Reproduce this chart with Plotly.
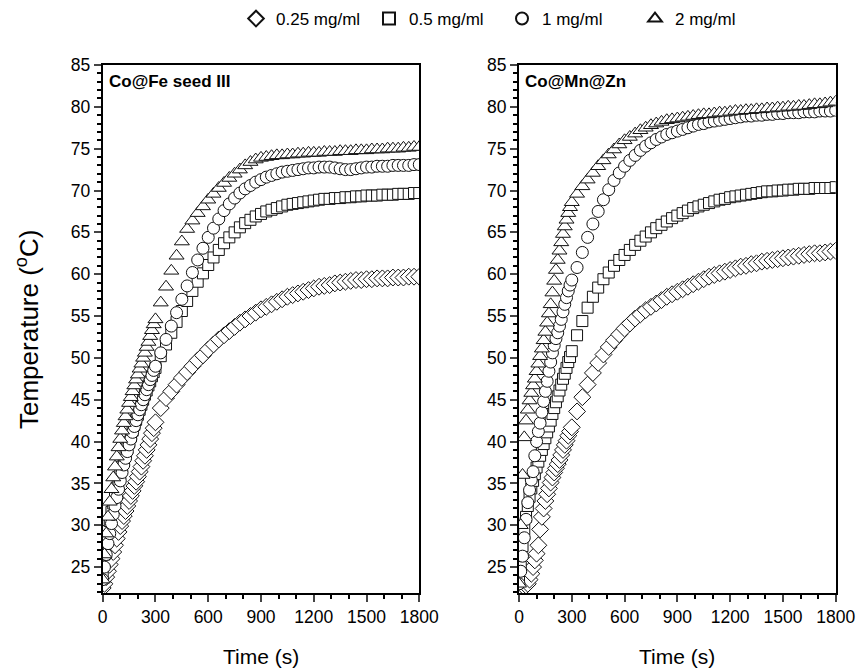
import plotly.graph_objects as go

# ---------------- data ----------------
TIME_S = [0, 10, 20, 30, 40, 50, 60, 70, 80, 90, 100, 110, 120, 130, 140, 150,
          160, 170, 180, 190, 200, 210, 220, 230, 240, 250, 260, 270, 280, 290, 300,
          330, 360, 390, 420, 450, 480, 510, 540, 570, 600,
          630, 660, 690, 720, 750, 780, 810, 840, 870, 900,
          930, 960, 990, 1020, 1050, 1080, 1110, 1140, 1170, 1200,
          1230, 1260, 1290, 1320, 1350, 1380, 1410, 1440, 1470, 1500,
          1530, 1560, 1590, 1620, 1650, 1680, 1710, 1740, 1770, 1800]

SERIES_NAMES = ["0.25 mg/ml", "0.5 mg/ml", "1 mg/ml", "2 mg/ml"]
PANEL_LABELS = ["Co@Fe seed III", "Co@Mn@Zn"]

# Co@Fe seed III
cofe_025 = [22.5, 23.0, 23.8, 24.5, 25.3, 26.0, 26.8, 27.6, 28.4, 29.2, 29.9, 30.5, 31.1, 31.7, 32.3, 32.9,
            33.5, 34.1, 34.7, 35.2, 35.8, 36.4, 37.0, 37.7, 38.3, 39.0, 39.6, 40.3, 41.0, 41.6, 42.3,
            44.0, 45.2, 46.0, 46.8, 47.6, 48.3, 49.0, 49.7, 50.3, 51.0,
            51.6, 52.2, 52.7, 53.2, 53.7, 54.2, 54.6, 55.0, 55.4, 55.8,
            56.1, 56.4, 56.7, 57.0, 57.3, 57.5, 57.7, 57.9, 58.1, 58.3,
            58.5, 58.6, 58.7, 58.9, 59.0, 59.1, 59.2, 59.3, 59.3, 59.4,
            59.4, 59.5, 59.5, 59.5, 59.6, 59.6, 59.6, 59.7, 59.7, 59.7]
cofe_05 = [24.0, 26.5, 28.0, 29.3, 30.5, 31.6, 32.6, 33.6, 34.5, 35.4, 36.2, 37.0, 37.8, 38.5, 39.2, 39.9,
           40.6, 41.3, 42.0, 42.6, 43.2, 43.8, 44.4, 45.0, 45.6, 46.1, 46.7, 47.2, 47.8, 48.3, 48.8,
           50.2, 51.6, 53.0, 54.3, 55.6, 56.8, 58.0, 59.1, 60.1, 61.1,
           62.0, 62.9, 63.7, 64.4, 65.0, 65.6, 66.1, 66.5, 66.9, 67.2,
           67.5, 67.7, 67.9, 68.1, 68.3, 68.4, 68.5, 68.6, 68.7, 68.8,
           68.9, 69.0, 69.0, 69.1, 69.1, 69.2, 69.2, 69.3, 69.3, 69.4,
           69.4, 69.4, 69.5, 69.5, 69.5, 69.6, 69.6, 69.6, 69.7, 69.7]
cofe_1 = [23.5, 25.0, 26.5, 27.8, 29.0, 30.2, 31.3, 32.3, 33.3, 34.3, 35.3, 36.3, 37.2, 38.0, 38.8, 39.6,
          40.3, 41.1, 41.8, 42.5, 43.2, 43.8, 44.4, 45.0, 45.6, 46.2, 46.8, 47.4, 47.9, 48.5, 49.0,
          50.6, 52.2, 53.8, 55.4, 57.0, 58.6, 60.2, 61.7, 63.1, 64.4,
          65.5, 66.6, 67.6, 68.4, 69.1, 69.7, 70.2, 70.6, 71.0, 71.3,
          71.6, 71.8, 72.0, 72.2, 72.3, 72.4, 72.5, 72.6, 72.7, 72.7,
          72.8, 72.8, 72.8, 72.7, 72.6, 72.5, 72.5, 72.6, 72.7, 72.8,
          72.8, 72.9, 72.9, 72.9, 73.0, 73.0, 73.0, 73.0, 73.1, 73.1]
cofe_2 = [23.5, 26.5, 29.0, 31.0, 32.8, 34.3, 35.7, 37.0, 38.2, 39.3, 40.3, 41.3, 42.2, 43.0, 43.8, 44.6,
          45.3, 46.0, 46.7, 47.4, 48.0, 48.7, 49.3, 50.0, 50.6, 51.3, 51.9, 52.6, 53.3, 54.0, 54.6,
          56.6, 58.5, 60.4, 62.2, 63.9, 65.4, 66.4, 67.3, 68.1, 68.9,
          69.6, 70.3, 70.9, 71.5, 72.0, 72.5, 73.0, 73.4, 73.7, 73.9,
          74.0, 74.1, 74.2, 74.2, 74.3, 74.3, 74.4, 74.4, 74.5, 74.5,
          74.5, 74.6, 74.6, 74.6, 74.7, 74.7, 74.7, 74.8, 74.8, 74.8,
          74.9, 74.9, 74.9, 75.0, 75.0, 75.0, 75.1, 75.1, 75.2, 75.2]

# Co@Mn@Zn
comn_025 = [22.0, 22.2, 22.4, 22.6, 22.8, 23.0, 23.5, 24.2, 25.0, 25.8, 26.6, 27.6, 29.5, 31.0, 32.0, 32.9,
            33.7, 34.4, 35.1, 35.7, 36.3, 36.8, 37.3, 37.8, 38.4, 39.0, 39.6, 40.1, 40.7, 41.2, 41.7,
            43.6, 45.3, 46.8, 48.2, 49.4, 50.4, 51.3, 52.1, 52.8, 53.5,
            54.1, 54.7, 55.2, 55.7, 56.1, 56.5, 56.9, 57.3, 57.6, 57.9,
            58.2, 58.5, 58.8, 59.1, 59.4, 59.7, 59.9, 60.1, 60.3, 60.5,
            60.7, 60.9, 61.0, 61.2, 61.3, 61.5, 61.6, 61.7, 61.8, 61.9,
            62.0, 62.1, 62.2, 62.3, 62.4, 62.5, 62.5, 62.6, 62.7, 62.8]
comn_05 = [23.5, 25.0, 27.5, 29.5, 31.0, 32.3, 33.4, 34.4, 35.3, 36.1, 36.9, 37.6, 38.3, 39.0, 39.7, 40.4,
           41.1, 41.8, 42.5, 43.3, 44.0, 44.7, 45.4, 46.1, 46.8, 47.5, 48.1, 48.8, 49.5, 50.1, 50.8,
           52.7, 54.4, 56.0, 57.3, 58.4, 59.4, 60.2, 61.0, 61.7, 62.3,
           62.9, 63.5, 64.0, 64.5, 65.0, 65.5, 65.9, 66.3, 66.7, 67.0,
           67.3, 67.6, 67.9, 68.1, 68.3, 68.5, 68.7, 68.9, 69.0, 69.2,
           69.3, 69.4, 69.5, 69.6, 69.7, 69.8, 69.9, 69.9, 70.0, 70.0,
           70.1, 70.1, 70.2, 70.2, 70.2, 70.3, 70.3, 70.3, 70.3, 70.4]
comn_1 = [23.0, 24.5, 26.3, 28.5, 30.7, 32.7, 34.2, 35.4, 36.4, 38.3, 40.0, 41.2, 42.2, 43.5, 44.8, 46.0,
          47.2, 48.4, 49.5, 50.6, 51.5, 52.3, 53.0, 53.8, 54.6, 55.5, 56.4, 57.2, 58.0, 58.7, 59.3,
          60.8, 62.6, 64.4, 66.0, 67.5, 68.9, 70.1, 71.2, 72.1, 72.9,
          73.6, 74.2, 74.8, 75.3, 75.7, 76.1, 76.4, 76.7, 76.9, 77.1,
          77.3, 77.5, 77.7, 77.9, 78.0, 78.2, 78.3, 78.4, 78.5, 78.6,
          78.7, 78.8, 78.9, 78.9, 79.0, 79.0, 79.1, 79.1, 79.2, 79.2,
          79.3, 79.3, 79.3, 79.4, 79.4, 79.4, 79.5, 79.5, 79.5, 79.6]
comn_2 = [23.0, 30.0, 36.0, 40.5, 42.5, 43.8, 44.9, 45.8, 46.7, 47.5, 48.4, 49.3, 50.2, 51.1, 52.1, 53.1,
          54.2, 55.3, 56.4, 57.8, 59.2, 60.5, 61.7, 62.8, 63.8, 64.8, 65.7, 66.5, 67.3, 68.0, 68.6,
          69.6, 70.5, 71.3, 72.1, 72.9, 73.6, 74.3, 74.9, 75.5, 76.0,
          76.4, 76.8, 77.2, 77.5, 77.8, 78.0, 78.2, 78.4, 78.5, 78.6,
          78.7, 78.8, 78.9, 79.0, 79.1, 79.1, 79.2, 79.3, 79.3, 79.4,
          79.5, 79.5, 79.6, 79.6, 79.7, 79.7, 79.8, 79.8, 79.9, 79.9,
          80.0, 80.0, 80.1, 80.1, 80.2, 80.3, 80.3, 80.4, 80.5, 80.6]

X_TICKS = [0, 300, 600, 900, 1200, 1500, 1800]
Y_TICKS = [25, 30, 35, 40, 45, 50, 55, 60, 65, 70, 75, 80, 85]

# ---------------- figure ----------------
FONT = "Liberation Sans, Arial, sans-serif"
SYMBOLS = ["diamond", "square", "circle", "triangle-up"]
SIZES = [13, 11, 12, 13]

panels = [
    ("x", "y", [cofe_025, cofe_05, cofe_1, cofe_2]),
    ("x2", "y2", [comn_025, comn_05, comn_1, comn_2]),
]

fig = go.Figure()
for p, (xa, ya, data) in enumerate(panels):
    for i, (name, vals) in enumerate(zip(SERIES_NAMES, data)):
        fig.add_trace(go.Scatter(
            x=TIME_S, y=vals, name=name, mode="markers",
            xaxis=xa, yaxis=ya, legendgroup=name, showlegend=(p == 0),
            marker=dict(symbol=SYMBOLS[i], size=SIZES[i], color="white",
                        line=dict(color="#111111", width=1)),
        ))

xdom1 = [102.7 / 862, 419.3 / 862]
xdom2 = [519.0 / 862, 835.7 / 862]
ydom = [1 - 593 / 672, 1 - 65 / 672]

TICKFONT = dict(family=FONT, size=17.5, color="black")

def xaxis_cfg(domain, anchor):
    return dict(domain=domain, anchor=anchor, range=[0, 1800],
                tickmode="array", tickvals=X_TICKS, ticks="outside", ticklen=7, tickwidth=2,
                minor=dict(dtick=100, ticks="outside", ticklen=4, tickwidth=1.5, tickcolor="black"),
                showline=True, linewidth=2, linecolor="black", mirror=True,
                showgrid=False, zeroline=False, tickfont=TICKFONT)

def yaxis_cfg(anchor):
    return dict(domain=ydom, anchor=anchor, range=[21.9, 85],
                tickmode="array", tickvals=Y_TICKS, ticks="outside", ticklen=7, tickwidth=2,
                minor=dict(dtick=1, tick0=0, ticks="outside", ticklen=4, tickwidth=1.5, tickcolor="black"),
                showline=True, linewidth=2, linecolor="black", mirror=True,
                showgrid=False, zeroline=False, tickfont=TICKFONT)

fig.update_layout(
    width=862, height=672,
    margin=dict(l=0, r=0, t=0, b=0, autoexpand=False),
    paper_bgcolor="white", plot_bgcolor="white",
    font=dict(family=FONT, color="black"),
    xaxis=xaxis_cfg(xdom1, "y"),
    yaxis=yaxis_cfg("x"),
    xaxis2=xaxis_cfg(xdom2, "y2"),
    yaxis2=yaxis_cfg("x2"),
    legend=dict(orientation="h", x=236 / 862, xanchor="left", y=1 - 19 / 672, yanchor="middle",
                font=dict(family=FONT, size=17, color="black"), bgcolor="rgba(0,0,0,0)",
                itemsizing="constant", entrywidth=88, entrywidthmode="pixels"),
    showlegend=True,
)

annotations = [
    dict(text="<b>" + PANEL_LABELS[0] + "</b>", xref="paper", yref="paper",
         x=107 / 862, y=1 - 81 / 672, xanchor="left", yanchor="middle", showarrow=False,
         font=dict(family=FONT, size=17, color="black")),
    dict(text="<b>" + PANEL_LABELS[1] + "</b>", xref="paper", yref="paper",
         x=523 / 862, y=1 - 81 / 672, xanchor="left", yanchor="middle", showarrow=False,
         font=dict(family=FONT, size=17, color="black")),
    dict(text="Temperature (<sup>o</sup>C)", xref="paper", yref="paper",
         x=27 / 862, y=1 - 330 / 672, xanchor="center", yanchor="middle", textangle=-90,
         showarrow=False, font=dict(family=FONT, size=26, color="black")),
    dict(text="Time (s)", xref="paper", yref="paper",
         x=(xdom1[0] + xdom1[1]) / 2, y=1 - 656 / 672, xanchor="center", yanchor="middle",
         showarrow=False, font=dict(family=FONT, size=21, color="black")),
    dict(text="Time (s)", xref="paper", yref="paper",
         x=(xdom2[0] + xdom2[1]) / 2, y=1 - 656 / 672, xanchor="center", yanchor="middle",
         showarrow=False, font=dict(family=FONT, size=21, color="black")),
]
fig.update_layout(annotations=annotations)

fig.write_html("out.html", config={"displayModeBar": False},
               post_script="document.body.style.margin='0px';")
